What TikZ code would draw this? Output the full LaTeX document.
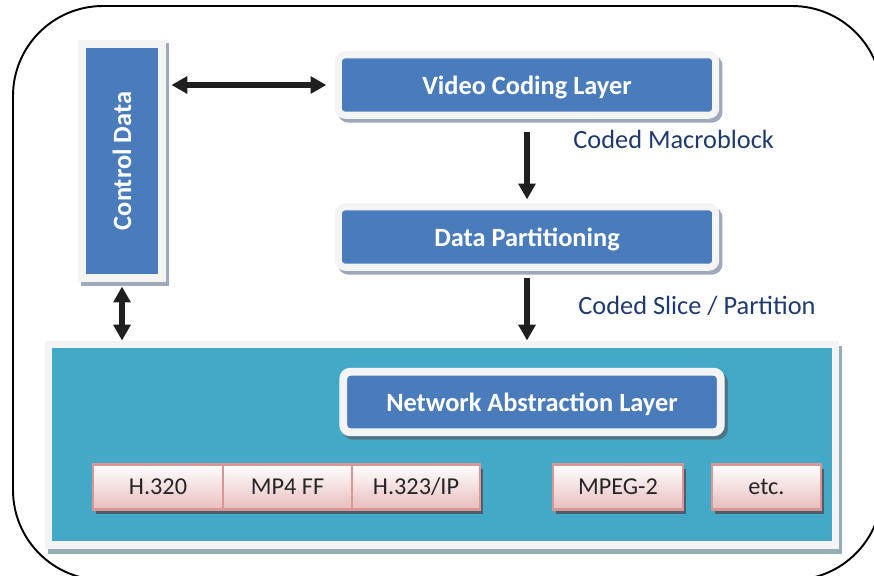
\documentclass[tikz,border=0pt]{standalone}
\usepackage{fontspec}
\setmainfont{Carlito}
\usepackage{tikz}
\usetikzlibrary{arrows.meta,positioning,shadows}
\definecolor{boxblue}{HTML}{4A7CBB}
\definecolor{framew}{HTML}{F4F4F4}
\definecolor{shadowg}{HTML}{9EA9BC}
\definecolor{teal}{HTML}{43A9C7}
\definecolor{tealshadow}{HTML}{95ADB7}
\definecolor{pinkline}{HTML}{D99694}
\definecolor{pinkbot}{HTML}{E8BDBD}
\definecolor{darkshadow}{HTML}{4F5E6E}
\definecolor{labelblue}{HTML}{1F3A6C}
\definecolor{textgray}{HTML}{262626}

\begin{document}
\begin{tikzpicture}[x=0.02cm,y=-0.02cm,
  layer/.style={fill=boxblue,draw=framew,line width=4pt,rounded corners=4pt,text=white,
    font=\fontsize{15}{18}\selectfont\bfseries,minimum width=7.55cm,minimum height=1.21cm,text depth=0pt,
    general shadow={fill=shadowg,draw=shadowg,line width=4pt,shadow xshift=1.8pt,shadow yshift=-2.2pt}},
  proto/.style={draw=pinkline,line width=1.2pt,top color=white,bottom color=pinkbot,text=textgray,
    font=\fontsize{13.8}{16}\selectfont,minimum height=0.9cm,
    general shadow={fill=darkshadow,shadow xshift=1.8pt,shadow yshift=-2.4pt}},
  flow/.style={line width=3.4pt,draw=black!88,-{Triangle[width=9.5pt,length=9pt]}},
  both/.style={flow,{Triangle[width=9.5pt,length=9pt]}-{Triangle[width=9.5pt,length=9pt]}},
  lbl/.style={text=labelblue,font=\fontsize{15}{18}\selectfont,anchor=base west,inner sep=0pt}]
\useasboundingbox (0,0) rectangle (874,575);
\draw[line width=1.1pt,rounded corners=1.8cm] (13,6) rectangle (882,580);

% control side
\node[fill=boxblue,draw=framew,line width=4.5pt,minimum width=1.61cm,minimum height=4.69cm,
  general shadow={fill=shadowg,draw=shadowg,line width=4.5pt,shadow xshift=1.8pt,shadow yshift=-2pt}]
  (ctrl) at (122,161) {};
\node[rotate=90,text=white,font=\fontsize{15}{18}\selectfont\bfseries] (ctrltxt) at (ctrl) {Control Data};

% coding layers
\node[layer] (vcl) at (527,85) {Video Coding Layer};
\node[layer] (dp) at (527,237) {Data Partitioning};

% network part
\node[fill=teal,draw=framew,line width=4pt,minimum width=15.75cm,minimum height=4.02cm,
  general shadow={fill=tealshadow,draw=tealshadow,line width=4pt,shadow xshift=1.8pt,shadow yshift=-3pt}]
  (net) at (442,444.5) {};
\node[layer,line width=4.5pt,general shadow={fill=darkshadow!70!teal,draw=darkshadow!70!teal,line width=4.5pt,shadow xshift=1.8pt,shadow yshift=-2pt}] (nal) at (532,402) {Network Abstraction Layer};

\node[proto,minimum width=2.6cm] (h320) at (158,487) {H.320};
\node[proto,minimum width=2.58cm] (mp4) at (287.5,487) {MP4 FF};
\node[proto,minimum width=2.56cm] (h323) at (416,487) {H.323/IP};
\node[proto,minimum width=2.6cm] (mpeg) at (618,487) {MPEG-2};
\node[proto,minimum width=2.18cm] (etc) at (766.5,487) {etc.};

% connectors
\draw[both,shorten <=3pt,shorten >=4.8pt] (ctrl.east |- vcl.west) -- (vcl.west);
\draw[both,shorten <=2.5pt] (ctrl.south) -- (ctrl.south |- net.north);
\draw[flow,shorten <=7.4pt,shorten >=2.2pt] (vcl.south) -- (dp.north);
\draw[flow,shorten <=4.2pt] (dp.south) -- (dp.south |- net.north);

\node[lbl] (mblabel) at (573,148) {Coded Macroblock};
\node[lbl] (slabel) at (578,314) {Coded Slice / Partition};
\end{tikzpicture}
\end{document}
